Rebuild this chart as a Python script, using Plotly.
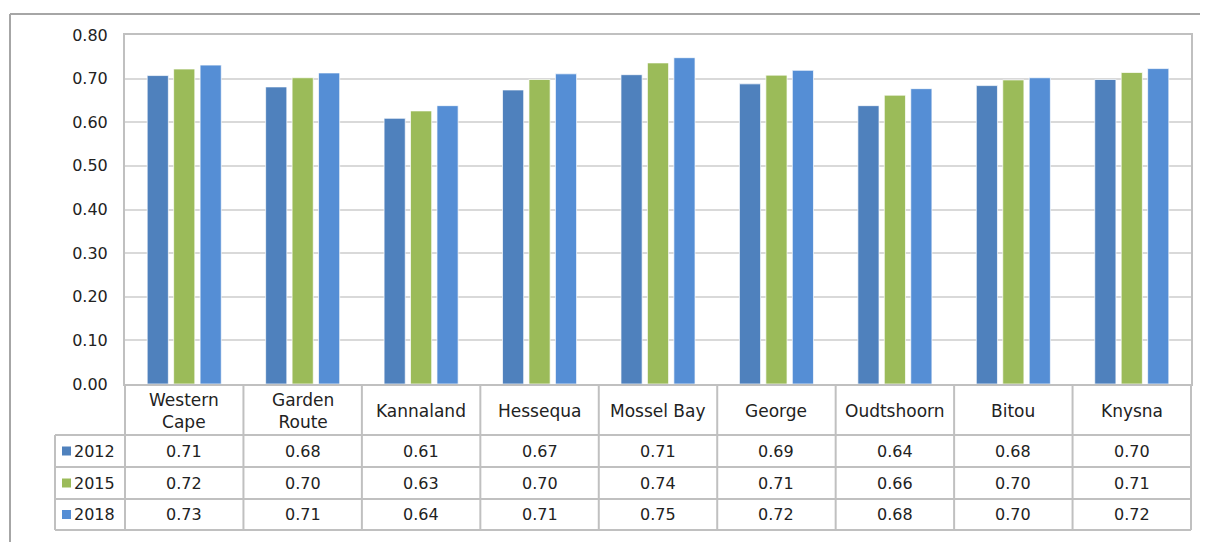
import plotly.graph_objects as go

categories = ["Western Cape", "Garden Route", "Kannaland", "Hessequa", "Mossel Bay",
              "George", "Oudtshoorn", "Bitou", "Knysna"]
header_labels = ["Western<br>Cape", "Garden<br>Route", "Kannaland", "Hessequa", "Mossel Bay",
                 "George", "Oudtshoorn", "Bitou", "Knysna"]
years = ["2012", "2015", "2018"]
v2012 = [0.707, 0.681, 0.609, 0.674, 0.709, 0.688, 0.638, 0.684, 0.698]
v2015 = [0.722, 0.702, 0.626, 0.698, 0.736, 0.708, 0.662, 0.697, 0.714]
v2018 = [0.731, 0.713, 0.638, 0.711, 0.748, 0.719, 0.677, 0.702, 0.723]
series = [v2012, v2015, v2018]
colors = ["#4F81BD", "#9BBB59", "#558ED5"]

W, H = 1208, 542
OFF = 8  # page body margin
# target pixel positions in the screenshot
PL, PR, PT, PB = 125, 1191, 35, 384
L, T = PL - OFF, PT - OFF
R = W - (PR - OFF)
B = H - (PB - OFF)
PW, PH = W - L - R, H - T - B
FONT = "DejaVu Sans"
TXT = "#222222"
LINE = "#C0C0C0"


def px_x(x):
    return (x - PL) / PW


def px_y(y):
    return (PB - y) / PH


fig = go.Figure()
xs = list(range(len(categories)))
for name, vals, col in zip(years, series, colors):
    fig.add_trace(go.Bar(x=xs, y=vals, name=name, marker=dict(color=col,
                  line=dict(color="rgba(255,255,255,0.7)", width=1))))

shapes = []
annotations = []
# outer border (top and left)
shapes.append(dict(type="line", xref="paper", yref="paper", x0=px_x(10), x1=px_x(W + 20),
                   y0=px_y(14), y1=px_y(14), line=dict(color="#A6A6A6", width=2)))
shapes.append(dict(type="line", xref="paper", yref="paper", x0=px_x(10), x1=px_x(10),
                   y0=px_y(14), y1=px_y(H + 20), line=dict(color="#A6A6A6", width=2)))

# table grid
row_lines = [435, 467, 499, 530]
n = len(categories)
for i in range(n + 1):
    shapes.append(dict(type="line", xref="paper", yref="paper", x0=i / n, x1=i / n,
                       y0=px_y(PB), y1=px_y(row_lines[-1]), line=dict(color=LINE, width=2)))
shapes.append(dict(type="line", xref="paper", yref="paper", x0=px_x(55), x1=px_x(55),
                   y0=px_y(row_lines[0]), y1=px_y(row_lines[-1]), line=dict(color=LINE, width=2)))
for y in row_lines:
    shapes.append(dict(type="line", xref="paper", yref="paper", x0=px_x(55), x1=1,
                       y0=px_y(y), y1=px_y(y), line=dict(color=LINE, width=2)))

tf = dict(family=FONT, size=16, color=TXT)
hf = dict(family=FONT, size=17, color=TXT)
# header text
for i, lab in enumerate(header_labels):
    annotations.append(dict(x=(i + 0.5) / n, y=px_y((PB + row_lines[0]) / 2 + 1), xref="paper",
                            yref="paper", text=lab, showarrow=False, xanchor="center",
                            yanchor="middle", font=hf))
# rows
for r, (name, vals, col) in enumerate(zip(years, series, colors)):
    yc = px_y((row_lines[r] + row_lines[r + 1]) / 2)
    shapes.append(dict(type="rect", xref="paper", yref="paper", x0=px_x(62), x1=px_x(71),
                       y0=yc - 4.5 / PH, y1=yc + 4.5 / PH, fillcolor=col, line=dict(width=0)))
    annotations.append(dict(x=px_x(72), y=yc, xref="paper", yref="paper", text=name,
                            xanchor="left", yanchor="middle", showarrow=False, font=tf))
    for i, v in enumerate(vals):
        annotations.append(dict(x=(i + 0.5) / n, y=yc, xref="paper", yref="paper",
                                text=f"{v:.2f}", showarrow=False, xanchor="center",
                                yanchor="middle", font=tf))

fig.update_layout(
    width=W, height=H, margin=dict(l=L, r=R, t=T, b=B, autoexpand=False),
    paper_bgcolor="white", plot_bgcolor="white",
    barmode="group", bargap=0.33, bargroupgap=0.2,
    showlegend=False,
    font=tf,
    shapes=shapes, annotations=annotations,
    xaxis=dict(range=[-0.5, n - 0.5], showticklabels=False, showgrid=False,
               showline=True, mirror=True, linecolor=LINE, linewidth=2, ticks="", fixedrange=True),
    yaxis=dict(range=[0, 0.8], dtick=0.1, tickformat=".2f", showgrid=True, gridcolor="#D9D9D9",
               gridwidth=2, zeroline=False, showline=True, mirror=True, linecolor=LINE, linewidth=2,
               ticks="", ticklabelstandoff=12, tickfont=tf),
)

fig.write_html("out.html")
